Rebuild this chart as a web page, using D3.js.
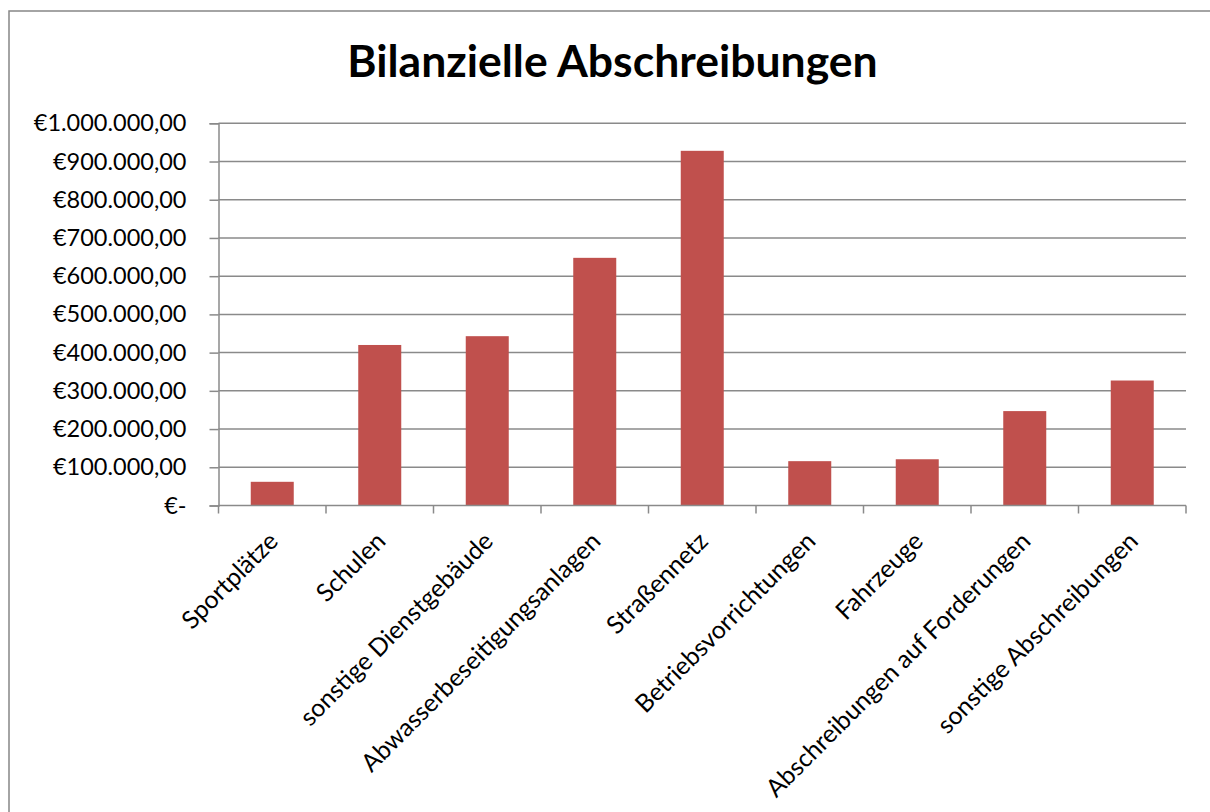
<!DOCTYPE html>
<html>
<head>
<meta charset="utf-8">
<script src="https://cdn.jsdelivr.net/npm/d3@7"></script>
<style>
  html, body { margin: 0; padding: 0; background: #fff; }
  svg { display: block; }
</style>
</head>
<body>
<svg id="chart" width="1210" height="812"></svg>
<script>
const categories = [
  "Sportplätze",
  "Schulen",
  "sonstige Dienstgebäude",
  "Abwasserbeseitigungsanlagen",
  "Straßennetz",
  "Betriebsvorrichtungen",
  "Fahrzeuge",
  "Abschreibungen auf Forderungen",
  "sonstige Abschreibungen"
];
const values = [62000, 420000, 443000, 648000, 928000, 116000, 121000, 247000, 327000];
const yTicks = [0, 100000, 200000, 300000, 400000, 500000, 600000, 700000, 800000, 900000, 1000000];
const title = "Bilanzielle Abschreibungen";

const FONT = "Lato, 'Open Sans', sans-serif";
const svg = d3.select("#chart");
const W = 1210, H = 812;
const plot = { left: 218.5, right: 1186, top: 123.3, bottom: 505.5 };

// outer chart border
svg.append("rect")
  .attr("x", 9).attr("y", 11)
  .attr("width", W + 20).attr("height", H + 20)
  .attr("fill", "#fff").attr("stroke", "#878787").attr("stroke-width", 1.5);

const x = d3.scaleBand().domain(categories).range([plot.left, plot.right]).paddingInner(0.6).paddingOuter(0.3);
const xb = d3.scaleBand().domain(categories).range([plot.left, plot.right]).padding(0);
const y = d3.scaleLinear().domain([0, 1000000]).range([plot.bottom, plot.top]);

const locale = d3.formatLocale({ decimal: ",", thousands: ".", grouping: [3], currency: ["€", ""] });
const fmt = locale.format("$,.2f");
const tickFmt = v => v === 0 ? "€-" : fmt(v);

// gridlines
svg.append("g").selectAll("line").data(yTicks.filter(v => v > 0)).join("line")
  .attr("x1", plot.left).attr("x2", plot.right)
  .attr("y1", d => y(d)).attr("y2", d => y(d))
  .attr("stroke", "#8a8a8a").attr("stroke-width", 1.5);

// y axis
const yAxis = svg.append("g").attr("transform", `translate(${plot.left},0)`)
  .call(d3.axisLeft(y).tickValues(yTicks).tickFormat(tickFmt).tickSize(9).tickPadding(23));
yAxis.select(".domain").attr("stroke", "#8a8a8a").attr("stroke-width", 1.5);
yAxis.selectAll(".tick line").attr("stroke", "#8a8a8a").attr("stroke-width", 1.5);
yAxis.selectAll(".tick text").attr("font-family", FONT).attr("font-size", 23.5).attr("fill", "#000");

// bars
svg.append("g").selectAll("rect").data(values).join("rect")
  .attr("x", (d, i) => x(categories[i]))
  .attr("width", x.bandwidth())
  .attr("y", d => y(d))
  .attr("height", d => y(0) - y(d))
  .attr("fill", "#c0504d");

// x axis
const xAxis = svg.append("g").attr("transform", `translate(0,${plot.bottom})`);
xAxis.append("line").attr("x1", plot.left).attr("x2", plot.right).attr("y1", 0).attr("y2", 0)
  .attr("stroke", "#8a8a8a").attr("stroke-width", 1.5);
const boundaries = categories.map(c => xb(c)).concat([plot.right]);
xAxis.selectAll("line.tk").data(boundaries).join("line").attr("class", "tk")
  .attr("x1", d => d).attr("x2", d => d).attr("y1", 0).attr("y2", 8)
  .attr("stroke", "#8a8a8a").attr("stroke-width", 1.5);
xAxis.selectAll("text").data(categories).join("text")
  .attr("transform", d => `translate(${xb(d) + xb.bandwidth() / 2 - 5},${25}) rotate(-45)`)
  .attr("text-anchor", "end")
  .attr("dy", "0.7em")
  .attr("font-family", FONT).attr("font-size", 24.8).attr("fill", "#000")
  .text(d => d);

// title
svg.append("text")
  .attr("x", 612.5).attr("y", 77)
  .attr("text-anchor", "middle")
  .attr("font-family", FONT).attr("font-weight", "bold").attr("font-size", 44.5)
  .attr("fill", "#000")
  .text(title);
</script>
</body>
</html>
